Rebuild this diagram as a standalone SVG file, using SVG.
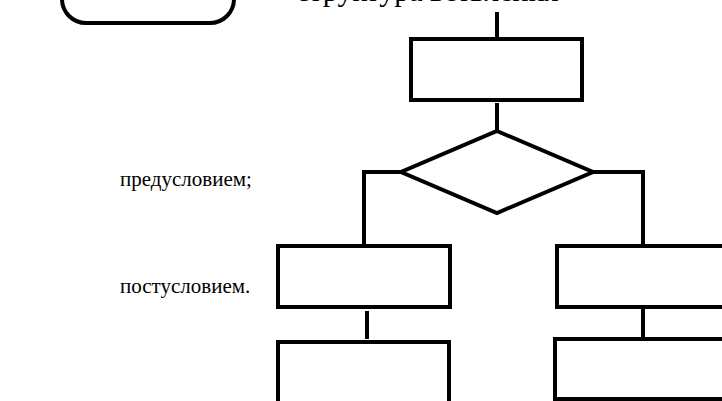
<svg xmlns="http://www.w3.org/2000/svg" width="722" height="401" viewBox="0 0 722 401">
<style>
.s{fill:none;stroke:#000;stroke-width:4}
.b{fill:#fff;stroke:#000;stroke-width:4}
.t{font-family:"Liberation Serif","Times New Roman",serif;font-size:21px;fill:#000}
</style>
<rect width="722" height="401" fill="#fff"/>
<text class="t" x="296" y="1" style="font-size:30px">структура ветвления</text>
<g id="terminal"><rect class="b" x="62" y="-40" width="172" height="63" rx="24"/></g>
<g id="process"><rect class="b" x="411" y="39" width="171" height="61"/></g>
<g id="decision"><polygon class="b" points="497,131 593,172 497,213 401,172"/></g>
<g id="left1"><rect class="b" x="278" y="246" width="172" height="61"/></g>
<g id="left2"><rect class="b" x="278" y="342" width="171" height="70"/></g>
<g id="right1"><rect class="b" x="557" y="246" width="180" height="61"/></g>
<g id="right2"><rect class="b" x="555" y="339" width="180" height="60"/></g>
<g id="connectors" class="s">
<path class="s" d="M497 12V39"/>
<path class="s" d="M497 103V131"/>
<path class="s" d="M401 172H364V246"/>
<path class="s" d="M593 172H643V246"/>
<path class="s" d="M367 311V339"/>
<path class="s" d="M643 307V337"/>
</g>
<text class="t" x="120" y="186">предусловием;</text>
<text class="t" x="120" y="293">постусловием.</text>
</svg>
